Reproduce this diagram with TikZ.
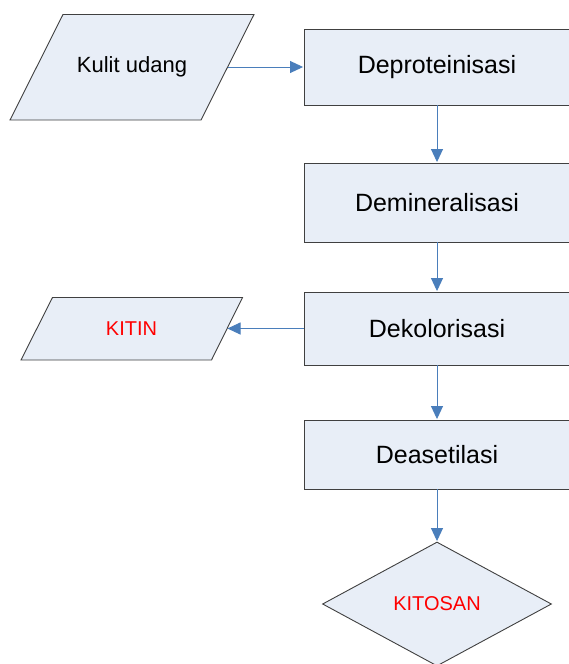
\documentclass[tikz,border=0pt]{standalone}
\usepackage{fontspec}
\setmainfont{Liberation Sans}
\usepackage{tikz}
\usetikzlibrary{shapes.geometric, arrows.meta}

\definecolor{boxFill}{HTML}{E8EEF7}
\definecolor{boxLine}{HTML}{404040}
\definecolor{flowBlue}{HTML}{4A7EBB}

% box runs past the right edge of the page, text stays centred at x=437
\newcommand{\stepText}[1]{\hspace*{-14pt}#1}

\begin{document}
\begin{tikzpicture}[x=1pt, y=-1pt,
    process/.style={draw=boxLine, fill=boxFill, line width=0.9pt, minimum width=280pt, inner sep=0pt, font=\fontsize{25}{28}\selectfont},
    io/.style={draw=boxLine, fill=boxFill, line width=0.9pt, line join=miter},
    decision/.style={draw=boxLine, fill=boxFill, line width=0.9pt, diamond, minimum width=229pt, minimum height=124pt, inner sep=0pt, text=red, font=\fontsize{20}{24}\selectfont},
    flow/.style={draw=flowBlue, line width=0.9pt, -{Triangle[length=13pt, width=12pt]}, shorten >=0.5pt}]
    \useasboundingbox (0,0) rectangle (568,664);

    % Input and output (parallelograms)
    \draw[io] (63,14.5) -- (254,14.5) -- (201,120) -- (10,120) -- cycle; % Kulit udang
    \node[font=\fontsize{22}{26}\selectfont] (kulit) at (132,67) {Kulit udang};
    \coordinate (kulitOut) at (227.5,67);
    \draw[io] (52.5,297.5) -- (242.5,297.5) -- (211.5,360) -- (21,360) -- cycle; % KITIN
    \node[text=red, font=\fontsize{20}{24}\selectfont] (kitin) at (131.5,328.5) {KITIN};
    \coordinate (kitinIn) at (227,328.5);

    % Process steps
    \node[process, minimum height=76pt] (deprot) at (444,67) {\stepText{Deproteinisasi}};
    \node[process, minimum height=79pt] (demin) at (444,202.5) {\stepText{Demineralisasi}};
    \node[process, minimum height=73pt] (dekol) at (444,328.5) {\stepText{Dekolorisasi}};
    \node[process, minimum height=69pt] (deaset) at (444,454.5) {\stepText{Deasetilasi}};

    % Final product
    \node[decision] (kitosan) at (437,604) {KITOSAN};

    % Connectors
    \draw[flow] (kulitOut) -- (deprot);
    \draw[flow] (deprot.south -| kitosan) -- (demin.north -| kitosan);
    \draw[flow] (demin.south -| kitosan) -- (dekol.north -| kitosan);
    \draw[flow] (dekol) -- (kitinIn);
    \draw[flow] (dekol.south -| kitosan) -- (deaset.north -| kitosan);
    \draw[flow] (deaset.south -| kitosan) -- (kitosan);

\end{tikzpicture}
\end{document}
